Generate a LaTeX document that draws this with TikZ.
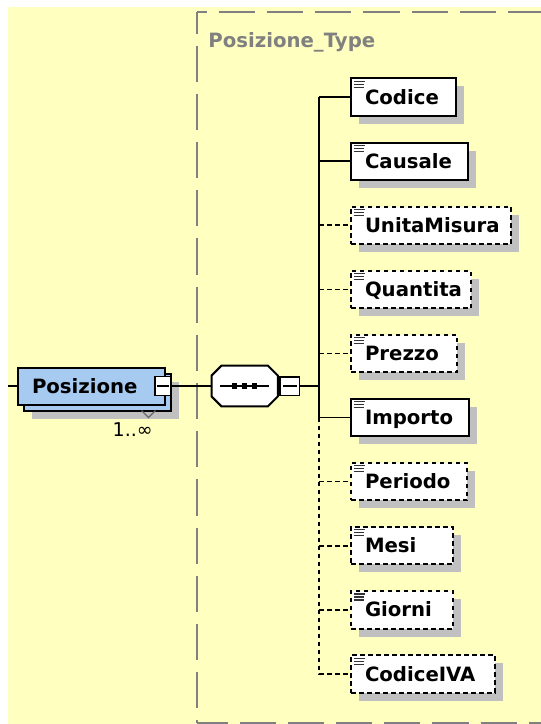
\documentclass[tikz,border=0pt]{standalone}
\usepackage{fontspec}
\setmainfont{DejaVu Sans}
\usetikzlibrary{shadows}
\definecolor{bgyellow}{HTML}{FFFFC0}
\definecolor{elblue}{HTML}{A6CAF0}
\definecolor{shadowgray}{HTML}{C0C0C0}
\definecolor{framegray}{HTML}{808080}
\begin{document}
\begin{tikzpicture}[x=1pt,y=-1pt,
  conn/.style={line width=1.7pt},
  dconn/.style={line width=1.7pt, dash pattern=on 4.5pt off 3.5pt},
  shad/.style={drop shadow={shadow xshift=8pt,shadow yshift=-8pt,fill=shadowgray,opacity=1}},
  elfont/.style={font=\bfseries\fontsize{19.7}{22}\selectfont},
  frameline/.style={draw=framegray, line width=1.5pt, dash pattern=on 36.2pt off 12pt},
  elbox/.style={draw=black, line width=2pt, fill=white, anchor=west,
    minimum height=37.5pt, inner xsep=14pt, inner ysep=0pt, align=left,
    text height=14.4pt, text depth=0pt, elfont, shad,
    path picture={
      \draw[solid, line width=1.1pt, black!80] ([shift={(2.9pt,-3pt)}]path picture bounding box.north west) -- ++(11.3pt,0pt);
      \draw[solid, line width=1.1pt, black!80] ([shift={(2.9pt,-6pt)}]path picture bounding box.north west) -- ++(10pt,0pt);
      \draw[solid, line width=1.1pt, black!80] ([shift={(2.9pt,-9pt)}]path picture bounding box.north west) -- ++(10pt,0pt);}},
  optbox/.style={elbox, dash pattern=on 4.5pt off 3.5pt},
  posbox/.style={draw=black, line width=2pt, fill=elblue, inner xsep=14pt, inner ysep=0pt,
    minimum width=147pt, minimum height=37pt},
  minusbox/.style={draw=black, line width=1.7pt, fill=white, inner sep=0pt},
  dotsq/.style={fill=black, minimum size=5.5pt, inner sep=0pt},
  minusline/.style={line width=1.7pt},
  seqshape/.style={draw=black, line width=2pt, fill=white}
]
\useasboundingbox (0,0) rectangle (541,724);
\fill[white] (0,0) rectangle (541,724);
\fill[bgyellow] (8,7) rectangle (541,724);

% type frame
\coordinate (ftl) at (197,12);
\coordinate (fbl) at (197,723);
\coordinate (ftr) at (541,12);
\coordinate (fbr) at (541,723);
\draw[frameline, dash phase=14.7pt] (ftl) -- (fbl);
\draw[frameline, dash phase=26.5pt] (ftl) -- (ftr);
\draw[frameline, dash phase=5.6pt] (fbl) -- (fbr);
\node[anchor=base west, inner sep=0pt, text=framegray, elfont] (typename) at (208.2,47) {Posizione\_Type};

% Posizione element
\node[posbox, shad] (posback) at (97.5,392) {};
\node[posbox, text width=119pt, align=left, text height=14.4pt, text depth=0pt, elfont] (pos) at (91.5,386) {Posizione};
\node[minusbox, minimum width=16pt, minimum height=19pt] (pm) at (163,386) {};
\draw[minusline] ([xshift=-6pt]pm.center) -- ([xshift=6pt]pm.center);
\coordinate (va) at (141.5,410.5);
\coordinate (vb) at (148.5,417.5);
\coordinate (vc) at (155.5,410.5);
\draw[black!60, line width=1.2pt] (va) -- (vb) -- (vc);
\node[anchor=base west, inner sep=0pt, font=\fontsize{19}{22}\selectfont] (mult) at (112.5,436.7) {1..∞};

% sequence compositor
\node[minimum width=66pt, minimum height=40.3pt, inner sep=0pt] (seq) at (244.7,386) {};
\begin{scope}[shift={(8pt,-8pt)}]
\fill[shadowgray] ([xshift=10pt]seq.north west) -- ([xshift=-10pt]seq.north east) -- ([yshift=-10pt]seq.north east) -- ([yshift=10pt]seq.south east) -- ([xshift=-10pt]seq.south east) -- ([xshift=10pt]seq.south west) -- ([yshift=10pt]seq.south west) -- ([yshift=-10pt]seq.north west) -- cycle;
\end{scope}
\path[seqshape] ([xshift=10pt]seq.north west) -- ([xshift=-10pt]seq.north east) -- ([yshift=-10pt]seq.north east) -- ([yshift=10pt]seq.south east) -- ([xshift=-10pt]seq.south east) -- ([xshift=10pt]seq.south west) -- ([yshift=10pt]seq.south west) -- ([yshift=-10pt]seq.north west) -- cycle;
\draw[conn] ([xshift=-24.5pt]seq.center) -- ([xshift=24.5pt]seq.center);
\node[dotsq] (d1) at ([xshift=-10pt]seq.center) {};
\node[dotsq] (d2) at (seq.center) {};
\node[dotsq] (d3) at ([xshift=10pt]seq.center) {};
\node[minusbox, minimum width=19.4pt, minimum height=18.7pt] (sm) at (289.9,386) {};
\draw[minusline] ([xshift=-7pt]sm.center) -- ([xshift=7pt]sm.center);

% child elements
\node[elbox, text width=77.2pt] (e0) at (350,97.2) {Codice};
\node[elbox, text width=89.2pt] (e1) at (350,161.27) {Causale};
\node[optbox, text width=131.9pt] (e2) at (350,225.34) {UnitaMisura};
\node[optbox, text width=91.9pt] (e3) at (350,289.41) {Quantita};
\node[optbox, text width=77.9pt] (e4) at (350,353.48) {Prezzo};
\node[elbox, text width=89.5pt] (e5) at (350,417.55) {Importo};
\node[optbox, text width=87.9pt] (e6) at (350,481.62) {Periodo};
\node[optbox, text width=73.5pt] (e7) at (350,545.69) {Mesi};
\node[optbox, text width=73.9pt] (e8) at (350,609.76) {Giorni};
\node[optbox, text width=116.2pt] (e9) at (350,673.83) {CodiceIVA};

% connectors
\coordinate (lt) at (8,386);
\coordinate (sp) at (319.3,386);
\draw[conn] (lt) -- (pos.west);
\draw[conn] (pm.east) -- (seq.west);
\draw[conn] (sm.east) -- (sp);
\draw[conn] (e0.west -| sp) -- (e5.west -| sp);
\draw[dconn] (e5.west -| sp) -- (e9.west -| sp) -- (e9.west);
\draw[conn] (e0.west -| sp) -- (e0.west);
\draw[conn] (e1.west -| sp) -- (e1.west);
\draw[dconn] (e2.west -| sp) -- (e2.west);
\draw[dconn] (e3.west -| sp) -- (e3.west);
\draw[dconn] (e4.west -| sp) -- (e4.west);
\draw[conn] (e5.west -| sp) -- (e5.west);
\draw[dconn] (e6.west -| sp) -- (e6.west);
\draw[dconn] (e7.west -| sp) -- (e7.west);
\draw[dconn] (e8.west -| sp) -- (e8.west);
\end{tikzpicture}
\end{document}
